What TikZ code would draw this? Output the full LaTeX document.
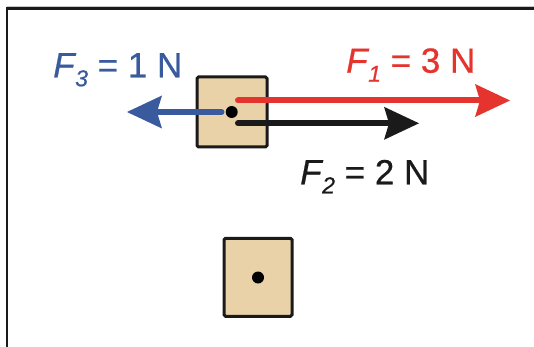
\documentclass[tikz,border=0pt]{standalone}
\usepackage{fontspec}
\setmainfont{Liberation Sans}[FakeBold=0.6]
\usetikzlibrary{arrows.meta}
\definecolor{boxtan}{HTML}{E9D2A7}
\definecolor{fblue}{HTML}{3A5A9E}
\definecolor{fred}{HTML}{E5332E}
\definecolor{fblack}{HTML}{1A1A1A}
\newcommand{\fsub}[1]{\raisebox{-9pt}{\fontsize{23}{23}\selectfont\textit{#1}}}
\tikzset{
  block/.style={draw=fblack, line width=3pt, fill=boxtan, rounded corners=1.5pt, inner sep=0pt},
  cdot/.style={circle, fill=black, inner sep=0pt, minimum size=12pt},
  force/.style={line width=6pt, line cap=round, -{Stealth[length=35pt,width=33pt,inset=5pt,line width=0pt]}},
  flabel/.style={anchor=base west, inner sep=0pt, font=\fontsize{35}{40}\selectfont},
  frame/.style={line width=2.6pt, draw=fblack}
}
\begin{document}
\begin{tikzpicture}[x=1pt,y=-1pt]
\useasboundingbox (0,0) rectangle (534,347);
% frame
\draw[gray!45, line width=1.3pt] (7,6.4) -- (534,6.4);
\draw[frame] (7,347) -- (7,8.7) -- (534,8.7);
% upper block
\node[block, minimum width=70pt, minimum height=70pt] (b1) at (232,112) {};
% forces
\coordinate (s3) at (221.5,112);
\coordinate (t3) at (127,112);
\coordinate (s1) at (238,100.5);
\coordinate (t1) at (510,100.5);
\coordinate (s2) at (238,123.3);
\coordinate (t2) at (419,123.3);
\draw[force, fblue] (s3) -- (t3);
\draw[force, fred] (s1) -- (t1);
\draw[force, fblack] (s2) -- (t2);
\node[cdot] (d1) at (231.7,112) {};
% labels
\node[flabel, text=fblue] (l3) at (53,77.3) {\textit{F}\kern-1pt\fsub{3} = 1 N};
\node[flabel, text=fred] (l1) at (346,72.7) {\textit{F}\kern-1pt\fsub{1} = 3 N};
\node[flabel, text=fblack] (l2) at (300,184.3) {\textit{F}\kern-1pt\fsub{2} = 2 N};
% lower block
\node[block, minimum width=68pt, minimum height=78pt] (b2) at (258,277.3) {};
\node[cdot] (d2) at (258,277.5) {};
\end{tikzpicture}
\end{document}
